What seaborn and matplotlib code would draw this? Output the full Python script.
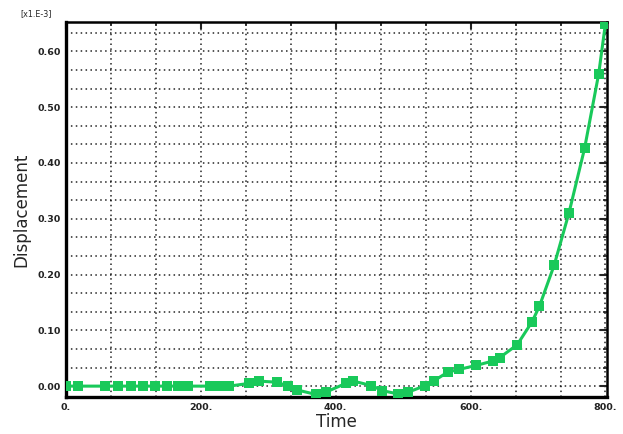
import numpy as np
import pandas as pd
import seaborn as sns
import matplotlib.pyplot as plt
from matplotlib.ticker import FixedLocator, FuncFormatter

sns.set_style('white')

# values (displacement in units of 1e-3)
time = [0, 18, 58, 77, 96, 114, 132, 149, 166, 181, 213, 228, 242, 272, 286,
        313, 329, 343, 371, 385, 415, 426, 453, 469, 492, 507, 533, 545, 566,
        583, 608, 633, 643, 669, 691, 702, 724, 746, 769, 790, 800]
displacement = [0.0, 0.0, 0.0, 0.0, 0.0, 0.0, 0.0, 0.0, 0.0, 0.0, 0.0, 0.0, 0.0,
                0.005, 0.009, 0.007, 0.0, -0.007, -0.015, -0.011, 0.005, 0.009,
                0.001, -0.008, -0.014, -0.011, 0.001, 0.009, 0.025, 0.030,
                0.037, 0.045, 0.051, 0.074, 0.115, 0.143, 0.217, 0.311, 0.426,
                0.560, 0.650]

x_major = [0, 200, 400, 600, 800]
y_major = [0.0, 0.1, 0.2, 0.3, 0.4, 0.5, 0.6]

green = "#19c95a"

df = pd.DataFrame({"Time": time, "Displacement": displacement})

fig = plt.figure(figsize=(6.23, 4.34), dpi=100)
ax = fig.add_axes([0.106, 0.085, 0.868, 0.864])

sns.lineplot(data=df, x="Time", y="Displacement", ax=ax, color=green,
             linewidth=2.2, marker="s", markersize=6.8, markeredgewidth=0,
             zorder=5)

ax.set_xlim(0, 802)
ax.set_ylim(-0.0197, 0.6525)

# major ticks + gridlines at one third of each major step
ax.xaxis.set_major_locator(FixedLocator(x_major))
ax.yaxis.set_major_locator(FixedLocator(y_major))
ax.xaxis.set_minor_locator(FixedLocator(np.arange(0, 801, 200 / 3)))
ax.yaxis.set_minor_locator(FixedLocator(np.arange(0, 0.66, 0.1 / 3)))
ax.xaxis.set_major_formatter(FuncFormatter(lambda v, p: f"{v:.0f}."))
ax.yaxis.set_major_formatter(FuncFormatter(lambda v, p: f"{v:.2f}"))

ax.grid(True, which="both", color="black", linestyle=(0, (1, 2.2)),
        linewidth=1.1, alpha=0.85)

ax.tick_params(which="major", direction="in", length=5, width=1.5,
               top=True, right=True, labelsize=6.8, pad=4)
ax.tick_params(which="minor", direction="in", length=3, width=1.2,
               top=True, right=True)
for lbl in ax.get_xticklabels() + ax.get_yticklabels():
    lbl.set_fontweight("bold")
    lbl.set_color("#222222")

for side in ["left", "bottom"]:
    ax.spines[side].set_linewidth(2.4)
for side in ["top", "right"]:
    ax.spines[side].set_linewidth(1.8)
for s in ax.spines.values():
    s.set_color("black")

ax.set_xlabel("Time", fontsize=12, labelpad=1)
ax.set_ylabel("Displacement", fontsize=12, labelpad=5)

fig.text(0.033, 0.968, "[x1.E-3]", fontsize=5.8, ha="left", va="center")

plt.savefig("out.png", dpi=100)
plt.close()
